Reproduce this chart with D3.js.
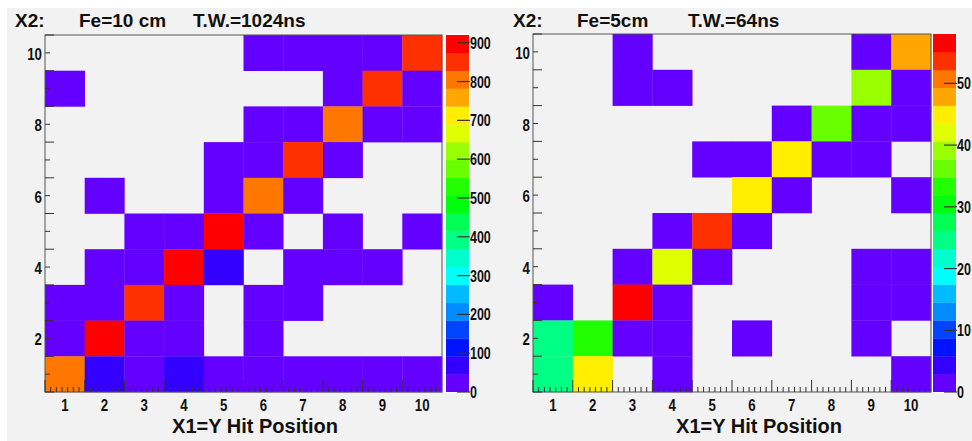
<!DOCTYPE html>
<html>
<head>
<meta charset="utf-8">
<script src="https://cdn.jsdelivr.net/npm/d3@7"></script>
<style>
  body { margin: 0; background: #ffffff; }
  svg text { font-family: "Liberation Sans", Arial, sans-serif; font-weight: bold; fill: #111; }
</style>
</head>
<body>
<svg id="svg" width="972" height="441"></svg>
<script>
// bin positions 1..10 on both axes
var bins = [1, 2, 3, 4, 5, 6, 7, 8, 9, 10];
var yLabels = [2, 4, 6, 8, 10];

// counts, rows from y=10 (top) down to y=1, columns x=1..10
var countsFe10 = [
    [0, 0, 0, 0, 0, 12, 18, 15, 22, 850],
    [8, 0, 0, 0, 0, 0, 0, 20, 840, 30],
    [0, 0, 0, 0, 0, 15, 25, 790, 35, 14],
    [0, 0, 0, 0, 10, 30, 860, 28, 0, 0],
    [0, 6, 0, 0, 20, 800, 26, 0, 0, 0],
    [0, 0, 18, 30, 920, 35, 0, 12, 0, 9],
    [0, 22, 40, 890, 60, 0, 16, 24, 10, 0],
    [14, 38, 830, 34, 0, 20, 8, 0, 0, 0],
    [30, 900, 36, 25, 0, 14, 0, 0, 0, 0],
    [800, 70, 42, 55, 28, 20, 18, 15, 12, 10]
];
var countsFe5 = [
    [0, 0, 1, 0, 0, 0, 0, 0, 2, 48],
    [0, 0, 1, 2, 0, 0, 0, 0, 39, 2],
    [0, 0, 0, 0, 0, 0, 1, 36, 2, 1],
    [0, 0, 0, 0, 1, 2, 45, 2, 1, 0],
    [0, 0, 0, 0, 0, 44, 1, 0, 0, 1],
    [0, 0, 0, 1, 53, 2, 0, 0, 0, 0],
    [0, 0, 2, 42, 1, 0, 0, 0, 1, 2],
    [1, 0, 58, 2, 0, 0, 0, 0, 1, 1],
    [25, 33, 2, 1, 0, 1, 0, 0, 2, 0],
    [25, 45, 0, 1, 0, 0, 0, 0, 0, 1]
];
var zTicksFe10 = [0, 100, 200, 300, 400, 500, 600, 700, 800, 900];
var zTicksFe5 = [0, 10, 20, 30, 40, 50];
var titlesFe10 = ["X2:", "Fe=10 cm", "T.W.=1024ns"];
var titlesFe5 = ["X2:", "Fe=5cm", "T.W.=64ns"];
var xTitle = "X1=Y Hit Position";

var NLEVELS = 20;
var SQUEEZE = 0.78;   // the tick labels are in a condensed face

// old ROOT "pretty" palette: 50 hues from violet to red, picked for 20 contours
function levelColor(c) {
    var idx = Math.floor((c + 0.99) * 50 / NLEVELS);
    var hue = 280 - (idx + 1) * 5.6;
    return d3.hsl(hue, 1, 0.5).formatHex();
}

var panels = [
    {counts: countsFe10, zticks: zTicksFe10, titles: titlesFe10, titleX: [15, 79, 193],
     x0: 45, x1: 442, y0: 35, y1: 392, barX: 446, barW: 23, padX: 7, padW: 483, xTitleX: 255},
    {counts: countsFe5, zticks: zTicksFe5, titles: titlesFe5, titleX: [513, 577, 688],
     x0: 533, x1: 931, y0: 34, y1: 392, barX: 933, barW: 23, padX: 490, padW: 482, xTitleX: 759}
];

var svg = d3.select("svg");

// pad backgrounds first so no label of the left pad gets covered
svg.append("g").selectAll("rect").data(panels).enter().append("rect")
    .attr("x", function(p) { return p.padX; }).attr("y", 8)
    .attr("width", function(p) { return p.padW; }).attr("height", 433)
    .attr("fill", "#f2f2f2");

function squeezed(sel, fx, fy) {
    sel.attr("transform", function(d) {
        return "translate(" + fx(d) + "," + fy(d) + ") scale(" + SQUEEZE + ",1)";
    });
}

panels.forEach(function(p) {
    var g = svg.append("g");
    var zmax = d3.max(p.counts, function(r) { return d3.max(r); });

    var x = d3.scaleLinear().domain([0.5, 10.5]).range([p.x0, p.x1]);
    var y = d3.scaleLinear().domain([0.5, 10.5]).range([p.y1, p.y0]);
    var z = d3.scaleLinear().domain([0, zmax]).range([p.y1, p.y0]);

    function level(v) { return Math.min(NLEVELS - 1, Math.floor(v * NLEVELS / zmax)); }

    var cells = [];
    p.counts.forEach(function(row, i) {
        row.forEach(function(v, j) {
            if (v > 0) cells.push({bx: bins[j], by: bins[bins.length - 1 - i], v: v});
        });
    });

    g.append("g").selectAll("rect").data(cells).enter().append("rect")
        .attr("x", function(d) { return x(d.bx - 0.5); })
        .attr("y", function(d) { return y(d.by + 0.5); })
        .attr("width", function(d) { return x(d.bx + 0.5) - x(d.bx - 0.5) + 0.3; })
        .attr("height", function(d) { return y(d.by - 0.5) - y(d.by + 0.5) + 0.3; })
        .attr("fill", function(d) { return levelColor(level(d.v)); });

    // frame
    g.append("rect").attr("x", p.x0).attr("y", p.y0)
        .attr("width", p.x1 - p.x0).attr("height", p.y1 - p.y0)
        .attr("fill", "none").attr("stroke", "#555").attr("stroke-width", 1);

    // x axis: long ticks at bin edges, short ticks between
    var minor = d3.range(0.5, 10.5, 1 / 7);
    g.append("g").selectAll("line").data(minor).enter().append("line")
        .attr("x1", function(d) { return x(d); }).attr("x2", function(d) { return x(d); })
        .attr("y1", p.y1).attr("y2", function(d, i) { return i % 7 === 0 ? p.y1 - 12 : p.y1 - 5; })
        .attr("stroke", "#333").attr("stroke-width", 1);
    g.append("g").selectAll("text").data(bins).enter().append("text")
        .attr("text-anchor", "middle").attr("font-size", 17)
        .call(squeezed, function(d) { return x(d); }, function() { return p.y1 + 19; })
        .text(function(d) { return d; });

    // y axis
    var yt = d3.range(0.5, 10.6, 0.5);
    g.append("g").selectAll("line").data(yt).enter().append("line")
        .attr("x1", p.x0).attr("x2", function(d, i) { return i % 2 === 0 ? p.x0 + 9 : p.x0 + 5; })
        .attr("y1", function(d) { return y(d); }).attr("y2", function(d) { return y(d); })
        .attr("stroke", "#333").attr("stroke-width", 1);
    g.append("g").selectAll("text").data(yLabels).enter().append("text")
        .attr("text-anchor", "end").attr("font-size", 17)
        .call(squeezed, function() { return p.x0 - 3; }, function(d) { return y(d) + 7; })
        .text(function(d) { return d; });

    // colour bar
    var bands = d3.range(NLEVELS);
    g.append("g").selectAll("rect").data(bands).enter().append("rect")
        .attr("x", p.barX)
        .attr("y", function(d) { return z((d + 1) * zmax / NLEVELS); })
        .attr("width", p.barW)
        .attr("height", function(d) { return z(d * zmax / NLEVELS) - z((d + 1) * zmax / NLEVELS) + 0.3; })
        .attr("fill", function(d) { return levelColor(d); });
    g.append("rect").attr("x", p.barX - 0.5).attr("y", p.y0 - 0.5)
        .attr("width", p.barW + 1).attr("height", p.y1 - p.y0 + 1)
        .attr("fill", "none").attr("stroke", "#ffffff").attr("stroke-width", 1);
    g.append("g").selectAll("line").data(p.zticks).enter().append("line")
        .attr("x1", p.barX + p.barW - 12).attr("x2", p.barX + p.barW + 1)
        .attr("y1", function(d) { return z(d); }).attr("y2", function(d) { return z(d); })
        .attr("stroke", "#333").attr("stroke-width", 1.2);
    g.append("g").selectAll("text").data(p.zticks).enter().append("text")
        .attr("font-size", 16)
        .call(squeezed, function() { return p.barX + p.barW + 1; }, function(d) { return z(d) + 6; })
        .text(function(d) { return d; });

    // titles
    g.append("g").selectAll("text").data(p.titles).enter().append("text")
        .attr("x", function(d, i) { return p.titleX[i]; }).attr("y", 27)
        .attr("font-size", 19)
        .text(function(d) { return d; });
    g.append("text").attr("x", p.xTitleX).attr("y", 433)
        .attr("text-anchor", "middle").attr("font-size", 20)
        .text(xTitle);
});
</script>
</body>
</html>
